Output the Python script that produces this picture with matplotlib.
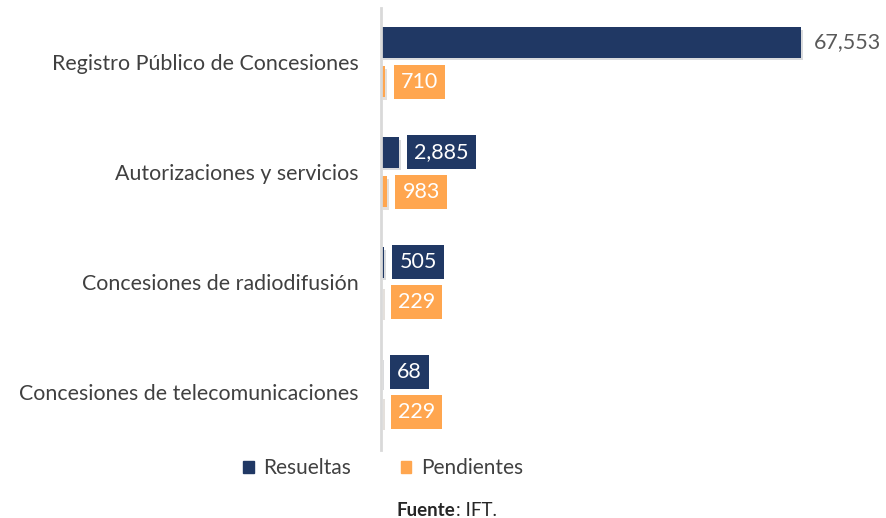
import matplotlib
matplotlib.use("Agg")
import matplotlib.pyplot as plt
from matplotlib.patches import Patch
import matplotlib.patheffects as pe

# Data
categories = ["Registro Público de Concesiones", "Autorizaciones y servicios",
              "Concesiones de radiodifusión", "Concesiones de telecomunicaciones"]
resueltas = [67553, 2885, 505, 68]
pendientes = [710, 983, 229, 229]

NAVY = "#203864"
ORANGE = "#FFA64F"
FONT = "Lato"

plt.rcParams["font.family"] = [FONT, "DejaVu Sans"]

W, H = 886, 518
fig = plt.figure(figsize=(W / 100, H / 100), dpi=100)
# axes: left spine at x=381px, spans y 8..450 px
ax = fig.add_axes([381 / W, 1 - 450 / H, (W - 381) / W, (450 - 8) / H])

y = list(range(len(categories)))
off = 0.18
h = 0.28
shadow = [pe.SimplePatchShadow(offset=(1.5, -2), alpha=0.15), pe.Normal()]
b1 = ax.barh([v - off for v in y], resueltas, height=h, color=NAVY, path_effects=shadow)
b2 = ax.barh([v + off for v in y], pendientes, height=h, color=ORANGE, path_effects=shadow)

ax.set_xlim(0, 67553 * (W - 381) / 420)
ax.set_ylim(3 + 58 / 110, -54 / 110)

def label(bars, vals, color, boxed):
  for bar, v in zip(bars, vals):
    yc = bar.get_y() + bar.get_height() / 2
    txt = "{:,}".format(v)
    if boxed:
      ax.annotate(txt, (bar.get_width(), yc), xytext=(11, 0), textcoords="offset points",
                  ha="left", va="center", fontsize=15.5, color="white",
                  bbox=dict(boxstyle="square,pad=0.33", fc=color, ec="none"))
    else:
      ax.annotate(txt, (bar.get_width(), yc), xytext=(9, 0), textcoords="offset points",
                  ha="left", va="center", fontsize=15.5, color="#595959")

# the long bar gets a plain label outside, the rest get boxed labels
label(b1[:1], resueltas[:1], NAVY, False)
label(b1[1:], resueltas[1:], NAVY, True)
label(b2, pendientes, ORANGE, True)

ax.set_yticks(y)
ax.set_yticklabels(categories, fontsize=15.4, color="#404040")
ax.tick_params(axis="y", length=0, pad=16)
ax.set_xticks([])
for s in ["top", "right", "bottom"]:
  ax.spines[s].set_visible(False)
ax.spines["left"].set_color("#D9D9D9")
ax.spines["left"].set_linewidth(2)

handles = [Patch(color=NAVY), Patch(color=ORANGE)]
fig.legend(handles, ["Resueltas", "Pendientes"], ncol=2, frameon=False,
           loc="center", bbox_to_anchor=(383 / W, 1 - 468 / H),
           fontsize=15, handlelength=0.5, handleheight=0.5, handletextpad=0.45,
           columnspacing=2.4, labelcolor="#404040")

t1 = fig.text(397 / W, 1 - 510 / H, "Fuente", fontsize=13.5, fontweight="bold",
              color="#262626", va="center", ha="left")
fig.canvas.draw()
bb = t1.get_window_extent()
fig.text(bb.x1 / W, 1 - 510 / H, ": IFT.", fontsize=13.5, color="#262626",
         va="center", ha="left")

fig.savefig("out.png", dpi=100)
